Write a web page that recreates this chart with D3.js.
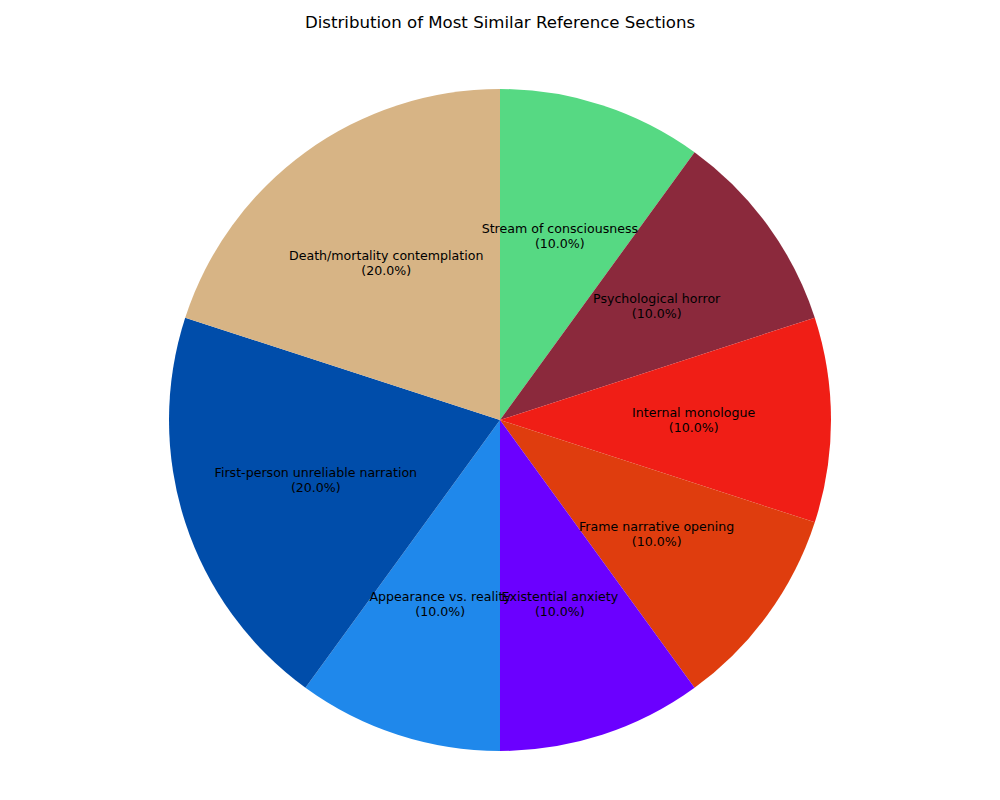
<!DOCTYPE html>
<html>
<head>
<meta charset="utf-8">
<script src="https://cdn.jsdelivr.net/npm/d3@7"></script>
<style>
  body { margin: 0; background: #fff; }
  svg { font-family: "DejaVu Sans", sans-serif; }
</style>
</head>
<body>
<div id="chart"></div>
<script>
const categories = [
  "Stream of consciousness",
  "Psychological horror",
  "Internal monologue",
  "Frame narrative opening",
  "Existential anxiety",
  "Appearance vs. reality",
  "First-person unreliable narration",
  "Death/mortality contemplation"
];
const counts = [1, 1, 1, 1, 1, 1, 2, 2];
const colors = ["#56d983", "#8b293c", "#f01e16", "#df3d0e", "#6b00ff", "#1f88eb", "#004daa", "#d7b485"];

const width = 1000, height = 800;
const cx = 500, cy = 420, radius = 331;

const svg = d3.select("#chart").append("svg")
  .attr("width", width)
  .attr("height", height);

svg.append("text")
  .attr("x", width / 2)
  .attr("y", 28)
  .attr("text-anchor", "middle")
  .attr("font-size", "16.6px")
  .text("Distribution of Most Similar Reference Sections");

const data = categories.map((c, i) => ({ label: c, value: counts[i], color: colors[i] }));
const total = d3.sum(counts);

const pie = d3.pie().value(d => d.value).sort(null);
const arc = d3.arc().innerRadius(0).outerRadius(radius);
const labelArc = d3.arc().innerRadius(radius * 0.585).outerRadius(radius * 0.585);

const g = svg.append("g").attr("transform", `translate(${cx},${cy})`);

const arcs = pie(data);

g.selectAll("path")
  .data(arcs)
  .enter()
  .append("path")
  .attr("d", arc)
  .attr("fill", d => d.data.color);

const labels = g.selectAll(".label")
  .data(arcs)
  .enter()
  .append("text")
  .attr("class", "label")
  .attr("transform", d => `translate(${labelArc.centroid(d)})`)
  .attr("text-anchor", "middle")
  .attr("font-size", "12.6px")
  .attr("fill", "#000");

labels.append("tspan")
  .attr("x", 0)
  .attr("y", -3)
  .text(d => d.data.label);

labels.append("tspan")
  .attr("x", 0)
  .attr("y", 12)
  .text(d => `(${(d.data.value / total * 100).toFixed(1)}%)`);
</script>
</body>
</html>
